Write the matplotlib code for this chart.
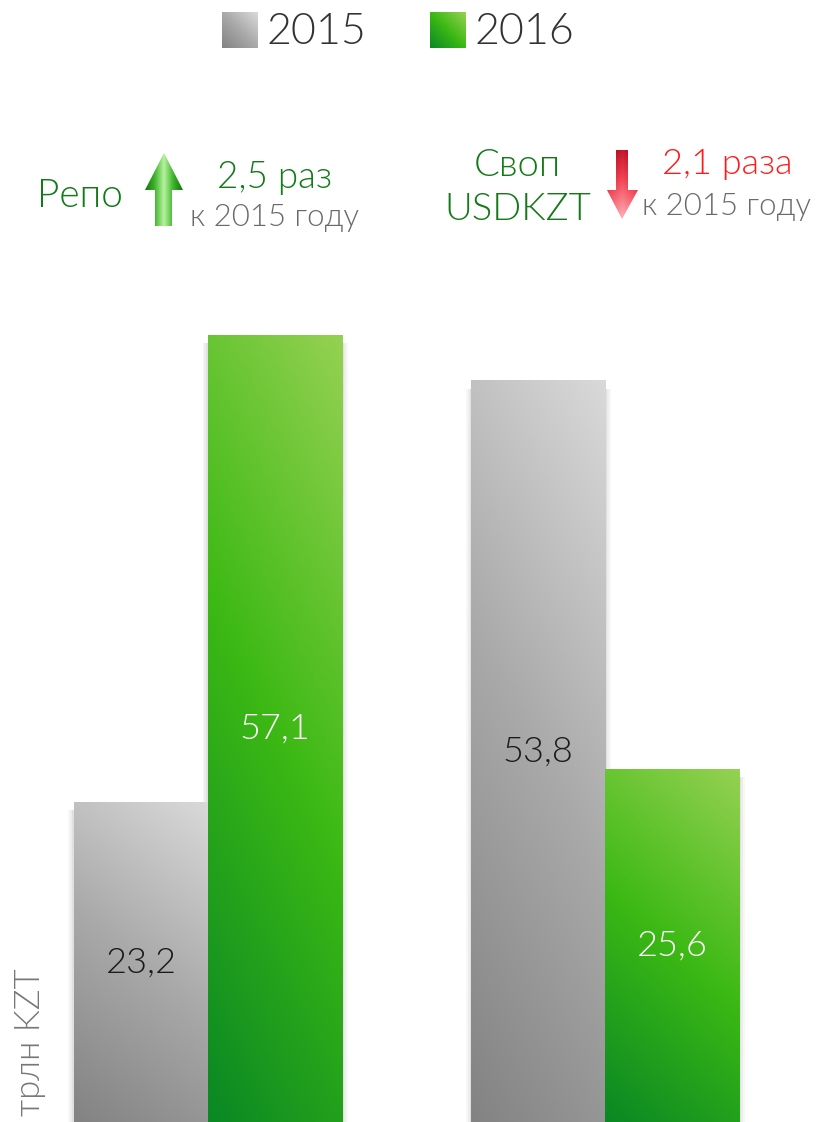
import numpy as np
import matplotlib.pyplot as plt
from matplotlib.colors import LinearSegmentedColormap
from matplotlib.patches import Rectangle, Polygon

plt.rcParams['font.family'] = ['Lato', 'DejaVu Sans']
plt.rcParams['font.weight'] = 300

# данные
groups = ["Репо", "Своп USDKZT"]
years = ["2015", "2016"]
vals_2015 = [23.2, 53.8]
vals_2016 = [57.1, 25.6]
labels_2015 = ["23,2", "53,8"]
labels_2016 = ["57,1", "25,6"]
ratios = ["2,5 раз", "2,1 раза"]

gray_cm = LinearSegmentedColormap.from_list("g", ["#838383", "#a9a9a9", "#d9d9d9"])
green_cm = LinearSegmentedColormap.from_list("gr", ["#0a8824", "#3cb914", "#95d152"])

fig = plt.figure(figsize=(8.16, 11.22), dpi=100)
ax = fig.add_axes([0, 0, 1, 1])
ax.set_xlim(-0.524, 1.531)
ax.set_ylim(0, 81.4)
ax.axis("off")

w = 0.3375


def grad_bar(ax, x0, h, cmap):
    # мягкая тень по бокам
    for k, a in [(0.014, 0.03), (0.009, 0.04), (0.004, 0.05)]:
        ax.add_patch(Rectangle((x0 - k, 0), w + 2 * k, h - 0.6, color="k", alpha=a, lw=0, zorder=1))
    rect = Rectangle((x0, 0), w, h, facecolor="none", lw=0, zorder=2)
    ax.add_patch(rect)
    xx, yy = np.meshgrid(np.linspace(0, 1, 60), np.linspace(0, 1, 200))
    t = 0.25 * xx + 0.75 * yy
    im = ax.imshow(t, cmap=cmap, extent=(x0, x0 + w, 0, h), origin="lower",
                   aspect="auto", zorder=2, vmin=0, vmax=1)
    im.set_clip_path(rect)


for i in range(len(groups)):
    grad_bar(ax, i - w, vals_2015[i], gray_cm)
    grad_bar(ax, i, vals_2016[i], green_cm)
    ax.text(i - w / 2, vals_2015[i] / 2, labels_2015[i], ha="center", va="center",
            fontsize=26, color="#1a1a1a", zorder=3)
    ax.text(i + w / 2, vals_2016[i] / 2, labels_2016[i], ha="center", va="center",
            fontsize=26, color="white", zorder=3)

ax.set_ylim(0, 81.4)
ax.set_xlim(-0.524, 1.531)

# оверлей в пиксельных координатах
ov = fig.add_axes([0, 0, 1, 1], facecolor="none")
ov.set_xlim(0, 816)
ov.set_ylim(1122, 0)
ov.axis("off")

# легенда
for sx, cm, yr in [(222, gray_cm, years[0]), (430, green_cm, years[1])]:
    r = Rectangle((sx, 12), 36, 36, facecolor="none", lw=0)
    ov.add_patch(r)
    xx, yy = np.meshgrid(np.linspace(0, 1, 30), np.linspace(0, 1, 30))
    im = ov.imshow(0.5 * xx + 0.5 * yy, cmap=cm, extent=(sx, sx + 36, 48, 12),
                   origin="lower", aspect="auto", vmin=0, vmax=1)
    im.set_clip_path(r)
    ov.text(sx + 45, 32, yr, fontsize=31, color="#333333", va="center", ha="left")

green_txt = "#137a18"
gray_txt = "#6a6a6a"

ov.text(80, 196, "Репо", fontsize=28, color=green_txt, ha="center", va="center")
ov.text(275, 178, ratios[0], fontsize=26.5, color=green_txt, ha="center", va="center")
ov.text(274, 217, "к 2015 году", fontsize=22.5, color=gray_txt, ha="center", va="center")

ov.text(517, 166, "Своп", fontsize=27.5, color=green_txt, ha="center", va="center")
ov.text(518, 210, "USDKZT", fontsize=27.5, color=green_txt, ha="center", va="center")
ov.text(727, 164, ratios[1], fontsize=26, color="#ff1a1a", ha="center", va="center")
ov.text(727, 206, "к 2015 году", fontsize=22.5, color=gray_txt, ha="center", va="center")

# стрелки
up = Polygon([(164, 153), (183, 190), (172, 190), (172, 226), (155, 226), (155, 190), (145, 190)],
             closed=True, facecolor="none", lw=0)
ov.add_patch(up)
xx, yy = np.meshgrid(np.linspace(-1, 1, 40), np.linspace(0, 1, 80))
t = 1 - np.abs(xx)
up_cm = LinearSegmentedColormap.from_list("u", ["#137a0c", "#3cb22a", "#b0f098"])
im = ov.imshow(t, cmap=up_cm, extent=(145, 183, 226, 153), origin="upper", aspect="auto")
im.set_clip_path(up)

dn = Polygon([(616, 150), (628, 150), (628, 190), (638, 190), (622, 219), (607, 190), (616, 190)],
             closed=True, facecolor="none", lw=0)
ov.add_patch(dn)
dn_cm = LinearSegmentedColormap.from_list("d", ["#ffb0b8", "#f04050", "#a80018"])
xx, yy = np.meshgrid(np.linspace(-1, 1, 40), np.linspace(0, 1, 80))
im = ov.imshow(0.8 * yy + 0.2 * np.abs(xx), cmap=dn_cm, extent=(607, 638, 150, 219),
               origin="upper", aspect="auto")
im.set_clip_path(dn)

ov.text(30, 1116, "трлн KZT", fontsize=25, color="#777777", rotation=90, ha="center", va="bottom")

ov.set_xlim(0, 816)
ov.set_ylim(1122, 0)

fig.savefig("out.png", dpi=100)
